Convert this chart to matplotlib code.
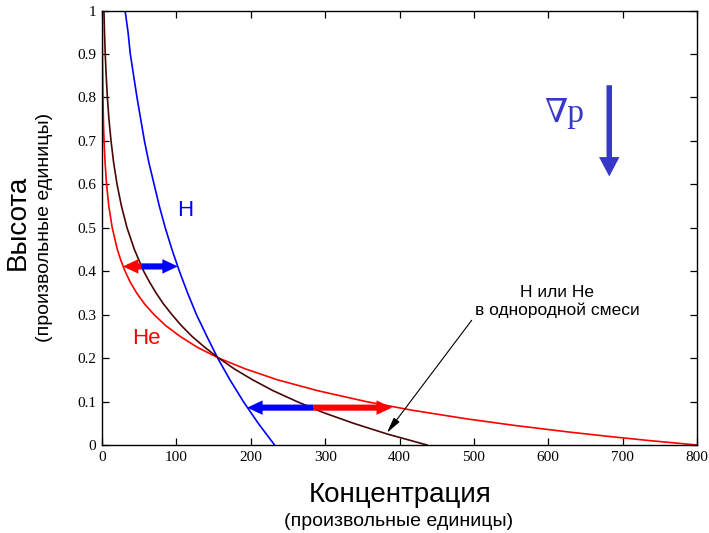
import matplotlib
matplotlib.use("Agg")
import matplotlib.pyplot as plt
from matplotlib.patches import FancyArrowPatch

# Height levels at which each profile was read
h_height = [0.0, 0.05, 0.1, 0.15, 0.2, 0.25, 0.3, 0.35, 0.4, 0.45, 0.5, 0.55, 0.6,
            0.65, 0.7, 0.75, 0.8, 0.85, 0.9, 0.95, 1.0]
h_conc = [232, 210, 190, 172, 155.5, 141, 127, 115, 104, 94, 85, 77, 70,
          63, 57, 52, 47, 42.5, 38, 35, 31]

he_height = [0.0, 0.01, 0.02, 0.03, 0.045, 0.06, 0.08, 0.1, 0.125, 0.15, 0.175, 0.2,
             0.225, 0.25, 0.275, 0.3, 0.325, 0.35, 0.375, 0.4, 0.425, 0.45, 0.5,
             0.55, 0.6, 0.65, 0.7, 0.75, 0.8, 0.9, 1.0]
he_conc = [800, 737, 680, 627, 555, 491, 417, 355, 290, 236, 193, 157,
           128, 105, 85.5, 70, 57, 46.5, 37.9, 31, 25.3, 20.6, 13.7,
           9.1, 6.1, 4.1, 2.7, 1.8, 1.2, 0.5, 0.25]

mix_height = [0.0, 0.025, 0.05, 0.075, 0.1, 0.125, 0.15, 0.175, 0.2, 0.225, 0.25,
              0.275, 0.3, 0.325, 0.35, 0.375, 0.4, 0.45, 0.5, 0.55, 0.6, 0.65, 0.7,
              0.75, 0.8, 0.85, 0.9, 0.95, 1.0]
mix_conc = [437, 384, 338, 297, 262, 230, 202.5, 178, 157, 138, 121,
            106.6, 94, 82.5, 72.6, 63.9, 56, 43.5, 33.6, 26.1, 20.2, 15.6, 12.1,
            9.3, 7.2, 5.6, 4.3, 3.3, 2.6]

# Separation arrows: height, He end, split on the mixture curve, H end
upper_arrow = [0.411, 28, 53, 102]
lower_arrow = [0.086, 390, 284, 195]

xticks = [0, 100, 200, 300, 400, 500, 600, 700, 800]
yticks = [0, 0.1, 0.2, 0.3, 0.4, 0.5, 0.6, 0.7, 0.8, 0.9, 1.0]
ytick_labels = ["0", "0.1", "0.2", "0.3", "0.4", "0.5", "0.6", "0.7", "0.8", "0.9", "1"]

RED = "#ff0000"
BLUE = "#0000ff"
BROWN = "#4a0505"
GRAD = "#3838c8"

sans = ["Liberation Sans", "DejaVu Sans"]
serif = ["Liberation Serif", "DejaVu Serif"]

fig = plt.figure(figsize=(7.09, 5.33), dpi=100)
ax = fig.add_axes([0.1439, 0.1651, 0.8392, 0.8152])

ax.plot(h_conc, h_height, color=BLUE, lw=1.2)
ax.plot(he_conc, he_height, color=RED, lw=1.2)
ax.plot(mix_conc, mix_height, color=BROWN, lw=1.2)

ax.set_xlim(0, 800)
ax.set_ylim(0, 1)
ax.set_xticks(xticks)
ax.set_xticklabels([str(t) for t in xticks])
ax.set_yticks(yticks)
ax.set_yticklabels(ytick_labels)
ax.tick_params(direction="in", length=5, width=0.9, top=True, right=True, pad=4,
               labelsize=11)
for lab in ax.get_xticklabels() + ax.get_yticklabels():
    lab.set_family(serif)
for sp in ax.spines.values():
    sp.set_linewidth(1.0)


def half_arrow(y, x_from, x_to, color):
    ax.add_patch(FancyArrowPatch((x_from, y), (x_to, y),
                                 arrowstyle="simple,head_length=0.86,head_width=0.8,tail_width=0.34",
                                 mutation_scale=13, lw=0, color=color,
                                 shrinkA=0, shrinkB=0, zorder=5))


for y, x_he, x_mid, x_h in (upper_arrow, lower_arrow):
    half_arrow(y, x_mid, x_he, RED)
    half_arrow(y, x_mid, x_h, BLUE)

# Curve labels
ax.text(112, 0.54, "H", color=BLUE, fontsize=16, family=sans, ha="center", va="center")
ax.text(60, 0.245, "He", color=RED, fontsize=16, family=sans, ha="center", va="center")
ax.text(612, 0.33, "Н или Не\nв однородной смеси", fontsize=12.5, family=sans,
        ha="center", va="center", linespacing=1.25)
ax.annotate("", xy=(383, 0.028), xytext=(497, 0.287),
            arrowprops=dict(arrowstyle="-|>,head_length=0.8,head_width=0.18",
                            mutation_scale=12, lw=0.8, color="black",
                            shrinkA=0, shrinkB=0))

# Pressure gradient direction
ax.text(622, 0.763, "∇p", color=GRAD, fontsize=24, family=serif,
        ha="center", va="center")
ax.add_patch(FancyArrowPatch((682, 0.828), (682, 0.618),
                             arrowstyle="simple,head_length=1.27,head_width=1.34,tail_width=0.36",
                             mutation_scale=11, lw=0, color=GRAD,
                             shrinkA=0, shrinkB=0))

# Axis titles
fig.text(0.565, 1 - 495 / 533, "Концентрация", fontsize=20, family=sans,
         ha="center", va="center")
fig.text(0.562, 1 - 522 / 533, "(произвольные единицы)", fontsize=14, family=sans,
         ha="center", va="center")
fig.text(18 / 709, 1 - 222 / 533, "Высота", fontsize=20, family=sans, rotation=90,
         ha="center", va="center")
fig.text(45 / 709, 1 - 227 / 533, "(произвольные единицы)", fontsize=14, family=sans,
         rotation=90, ha="center", va="center")

fig.savefig("out.png", dpi=100)
